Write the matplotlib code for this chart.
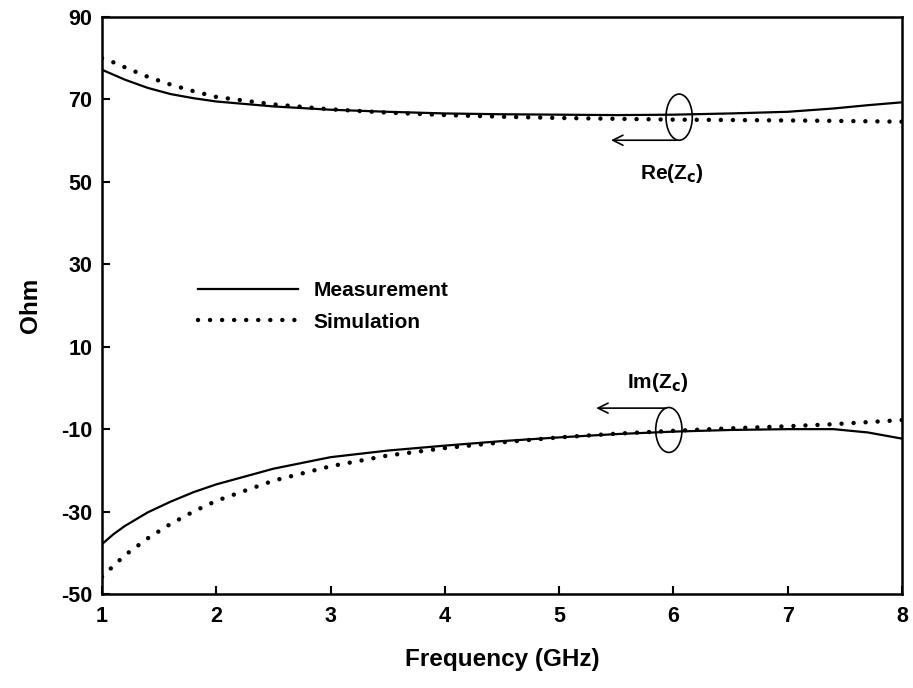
import numpy as np
import matplotlib
matplotlib.use("Agg")
import matplotlib.pyplot as plt
from matplotlib.patches import Ellipse

# =========================
# DATA
# =========================
freq = [1.0, 1.1, 1.2, 1.4, 1.6, 1.8, 2.0, 2.5, 3.0, 3.5, 4.0, 4.5, 5.0, 5.5, 6.0, 6.5, 7.0, 7.4, 7.7, 8.0]

re_meas = [77.2, 76.0, 74.8, 72.8, 71.3, 70.3, 69.5, 68.3, 67.5, 67.0, 66.6, 66.4, 66.3, 66.2, 66.3, 66.6, 67.0, 67.8, 68.6, 69.3]
re_sim = [80.0, 79.0, 77.8, 75.5, 73.6, 72.0, 70.6, 68.8, 67.6, 66.8, 66.2, 65.8, 65.5, 65.3, 65.1, 65.0, 64.9, 64.8, 64.7, 64.6]

im_meas = [-37.9, -35.5, -33.5, -30.2, -27.6, -25.3, -23.4, -19.6, -16.8, -15.2, -14.0, -12.9, -12.0, -11.2, -10.6, -10.2, -10.0, -10.0, -10.8, -12.3]
im_sim = [-45.8, -43.2, -40.6, -36.5, -33.0, -30.0, -27.4, -22.5, -19.0, -16.4, -14.6, -13.2, -12.0, -11.1, -10.4, -9.8, -9.3, -8.8, -8.3, -7.8]

x_ticks = [1, 2, 3, 4, 5, 6, 7, 8]
y_ticks = [-50, -30, -10, 10, 30, 50, 70, 90]

# =========================
# STYLE
# =========================
plt.rcParams['font.family'] = ['Liberation Sans', 'DejaVu Sans']
plt.rcParams['font.weight'] = 'bold'
plt.rcParams['font.size'] = 14
plt.rcParams['axes.unicode_minus'] = False

fig = plt.figure(figsize=(9.13, 6.88), dpi=100)
ax = fig.add_axes([102 / 913, 1 - 594 / 688, 800 / 913, 577 / 688])

dot_style = dict(color='black', linewidth=3.2, linestyle=(0, (0.01, 2.7)),
                 dash_capstyle='round')

ax.plot(freq, re_meas, color='black', linewidth=1.6, label='Measurement')
ax.plot(freq, re_sim, label='Simulation', **dot_style)
ax.plot(freq, im_meas, color='black', linewidth=1.6)
ax.plot(freq, im_sim, **dot_style)

ax.set_xlim(1, 8)
ax.set_ylim(-50, 90)
ax.set_xticks(x_ticks)
ax.set_yticks(y_ticks)
ax.tick_params(direction='in', length=6, width=1.5, labelsize=15.5)
ax.tick_params(axis='x', pad=9)
ax.tick_params(axis='y', pad=7)
for s in ax.spines.values():
    s.set_linewidth(1.8)

ax.set_xlabel('Frequency (GHz)', fontsize=17.5, fontweight='bold', labelpad=15)
ax.set_ylabel('Ohm', fontsize=17.5, fontweight='bold', labelpad=14)

# =========================
# ANNOTATIONS
# =========================
ax.add_patch(Ellipse((6.05, 65.7), 0.23, 11.2, fill=False, lw=1.2, color='black'))
ax.annotate('', xy=(5.43, 60.1), xytext=(6.05, 60.1),
            arrowprops=dict(arrowstyle='->', lw=1.2, color='black', mutation_scale=18))
ax.text(5.99, 52.1, 'Re(Z$_\\mathbf{c}$)', ha='center', va='center', fontsize=15)

ax.add_patch(Ellipse((5.96, -10.2), 0.23, 10.9, fill=False, lw=1.2, color='black'))
ax.annotate('', xy=(5.30, -4.9), xytext=(5.96, -4.9),
            arrowprops=dict(arrowstyle='->', lw=1.2, color='black', mutation_scale=18))
ax.text(5.86, 1.2, 'Im(Z$_\\mathbf{c}$)', ha='center', va='center', fontsize=15)

ax.legend(loc='upper left', bbox_to_anchor=(0.12, 0.542), frameon=False,
          borderpad=0, borderaxespad=0,
          fontsize=15, handlelength=4.8, handletextpad=0.75, labelspacing=0.6)

fig.savefig('out.png', dpi=100)
